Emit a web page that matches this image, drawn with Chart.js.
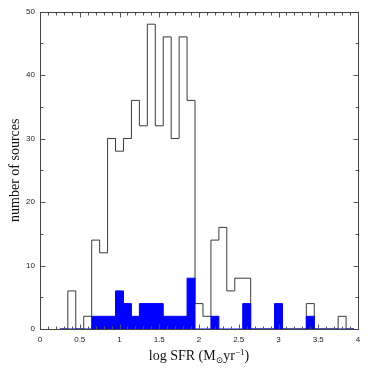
<!DOCTYPE html>
<html>
<head>
<meta charset="utf-8">
<style>
  html, body { margin: 0; padding: 0; background: #fff; }
  #c { display: block; }
</style>
<script src="https://cdn.jsdelivr.net/npm/chart.js@4/dist/chart.umd.min.js"></script>
</head>
<body>
<canvas id="c" width="374" height="372"></canvas>
<script>
// ---- data ----
const binCenters = [0.3,0.4,0.5,0.6,0.7,0.8,0.9,1.0,1.1,1.2,1.3,1.4,1.5,1.6,1.7,1.8,1.9,2.0,2.1,2.2,2.3,2.4,2.5,2.6,2.7,2.8,2.9,3.0,3.1,3.2,3.3,3.4,3.5,3.6,3.7,3.8,3.9];
const allSources  = [0,6,0,2,14,12,30,28,30,36,32,48,32,46,30,46,36,4,2,14,16,6,8,8,0,0,0,0,0,0,0,4,0,0,0,2,0];
const blueSources = [0,0,0,0,2,2,2,6,4,2,4,4,4,2,2,2,8,0,0,2,0,0,0,4,0,0,0,4,0,0,0,2,0,0,0,0,0];
const binWidth = 0.1;
const xTickLabels = [0, 0.5, 1, 1.5, 2, 2.5, 3, 3.5, 4];
const yTickLabels = [0, 10, 20, 30, 40, 50];
const xTitle = ["log SFR (M", "\u2299", "yr", "\u22121", ")"];
const yTitle = "number of sources";

// points at left bin edges; with stepped 'before' each value is held until the next edge
function stepPoints(centers, values) {
  const pts = [];
  for (let i = 0; i < centers.length; i++) {
    pts.push({ x: +(centers[i] - binWidth / 2).toFixed(3), y: values[i] });
  }
  pts.push({ x: +(centers[centers.length - 1] + binWidth / 2).toFixed(3), y: 0 });
  return pts;
}

const framePlugin = {
  id: 'frame',
  afterDatasetsDraw(chart) {
    const { ctx, chartArea: a, scales } = chart;
    const xs = scales.x, ys = scales.y;
    ctx.save();
    ctx.strokeStyle = '#555';
    ctx.lineWidth = 1;
    const L = Math.round(a.left) + 0.5, R = Math.round(a.right) + 0.5;
    const T = Math.round(a.top) + 0.5, B = Math.round(a.bottom) + 0.5;
    ctx.beginPath();
    for (let k = 1; k < 40; k++) {
      const v = k / 10;
      const px = Math.round(xs.getPixelForValue(v)) + 0.5;
      const len = (k % 5 === 0) ? 5 : 3;
      ctx.moveTo(px, B); ctx.lineTo(px, B - len);
      ctx.moveTo(px, T); ctx.lineTo(px, T + len);
    }
    for (let k = 1; k < 10; k++) {
      const v = k * 5;
      const py = Math.round(ys.getPixelForValue(v)) + 0.5;
      const len = (k % 2 === 0) ? 5 : 3;
      ctx.moveTo(L, py); ctx.lineTo(L + len, py);
      ctx.moveTo(R, py); ctx.lineTo(R - len, py);
    }
    ctx.stroke();
    ctx.strokeStyle = '#444';
    ctx.strokeRect(L, T, R - L, B - T);
    ctx.restore();

    ctx.save();
    ctx.fillStyle = '#111';
    ctx.font = '14px "Liberation Serif", "DejaVu Serif", serif';
    ctx.translate(15, (a.top + a.bottom) / 2);
    ctx.rotate(-Math.PI / 2);
    ctx.textAlign = 'center';
    ctx.textBaseline = 'middle';
    ctx.fillText(yTitle, 0, 0);
    ctx.restore();

    ctx.save();
    ctx.fillStyle = '#111';
    const big = '14px "Liberation Serif", "DejaVu Serif", serif';
    const small = '9px "Liberation Serif", "DejaVu Serif", serif';
    const parts = [
      { t: xTitle[0], f: big, dy: 0 },
      { t: xTitle[1], f: small, dy: 3 },
      { t: xTitle[2], f: big, dy: 0 },
      { t: xTitle[3], f: small, dy: -5 },
      { t: xTitle[4], f: big, dy: 0 }
    ];
    let total = 0;
    parts.forEach(p => { ctx.font = p.f; p.w = ctx.measureText(p.t).width; total += p.w; });
    let x = (a.left + a.right) / 2 - total / 2;
    const baseY = 360;
    ctx.textBaseline = 'alphabetic';
    ctx.textAlign = 'left';
    parts.forEach(p => { ctx.font = p.f; ctx.fillText(p.t, x, baseY + p.dy); x += p.w; });
    ctx.restore();
  }
};

new Chart(document.getElementById('c'), {
  type: 'line',
  data: {
    datasets: [
      {
        label: 'all',
        data: stepPoints(binCenters, allSources),
        stepped: 'before',
        borderColor: '#3a3a3a',
        borderWidth: 1,
        pointRadius: 0,
        fill: false,
        order: 2
      },
      {
        label: 'blue',
        data: stepPoints(binCenters, blueSources),
        stepped: 'before',
        borderColor: '#0000ff',
        backgroundColor: '#0000ff',
        borderWidth: 1,
        pointRadius: 0,
        fill: 'origin',
        order: 1
      }
    ]
  },
  options: {
    responsive: false,
    devicePixelRatio: 1,
    animation: false,
    layout: { padding: { top: 11.5, right: 16, left: 0, bottom: 0 } },
    plugins: { legend: { display: false }, tooltip: { enabled: false } },
    scales: {
      x: {
        type: 'linear', min: 0, max: 4,
        afterFit(s) { s.height = 43; },
        afterBuildTicks(s) { s.ticks = xTickLabels.map(v => ({ value: v })); },
        grid: { display: false, drawTicks: false },
        border: { display: false },
        ticks: { padding: 6, color: '#222', font: { family: '"Liberation Sans", Arial, sans-serif', size: 8 }, maxRotation: 0, autoSkip: false,
                 callback: v => String(v) }
      },
      y: {
        type: 'linear', min: 0, max: 50,
        afterFit(s) { s.width = 40; },
        afterBuildTicks(s) { s.ticks = yTickLabels.map(v => ({ value: v })); },
        grid: { display: false, drawTicks: false },
        border: { display: false },
        ticks: { padding: 5, color: '#222', font: { family: '"Liberation Sans", Arial, sans-serif', size: 8 },
                 callback: v => String(v) }
      }
    }
  },
  plugins: [framePlugin]
});
</script>
</body>
</html>
